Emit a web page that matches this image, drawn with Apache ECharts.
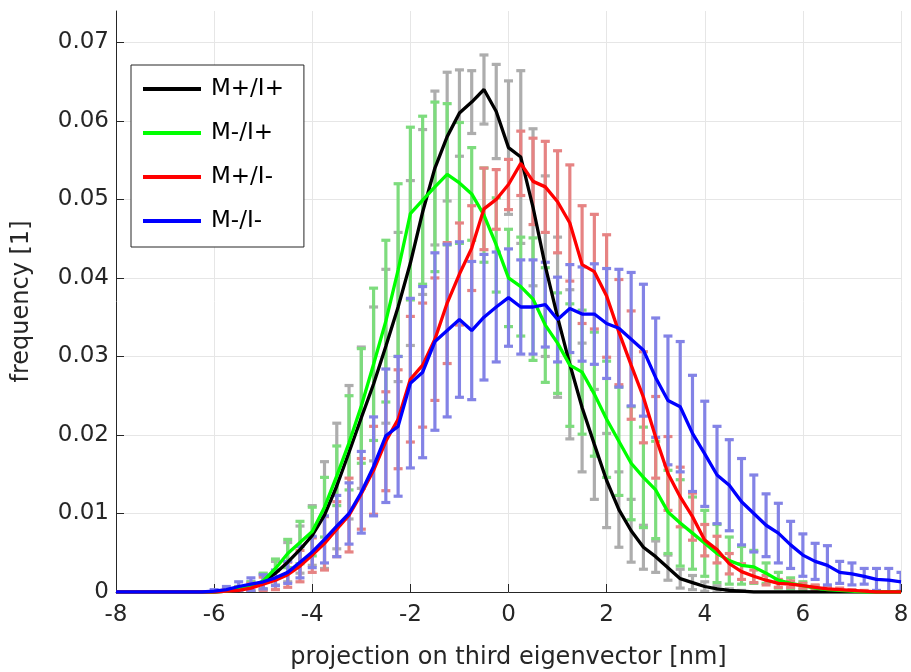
<!DOCTYPE html>
<html><head><meta charset="utf-8">
<script src="https://cdn.jsdelivr.net/npm/echarts@6/dist/echarts.min.js"></script>
<style>html,body{margin:0;padding:0;background:#fff}#c{width:911px;height:672px}</style>
</head><body><div id="c"></div>
<script>
const xValues = [-8,-7.75,-7.5,-7.25,-7,-6.75,-6.5,-6.25,-6,-5.75,-5.5,-5.25,-5,-4.75,-4.5,-4.25,-4,-3.75,-3.5,-3.25,-3,-2.75,-2.5,-2.25,-2,-1.75,-1.5,-1.25,-1,-0.75,-0.5,-0.25,0,0.25,0.5,0.75,1,1.25,1.5,1.75,2,2.25,2.5,2.75,3,3.25,3.5,3.75,4,4.25,4.5,4.75,5,5.25,5.5,5.75,6,6.25,6.5,6.75,7,7.25,7.5,7.75,8];

const seriesNames = ['M+/I+', 'M-/I+', 'M+/I-', 'M-/I-'];

const meanMpIp = [0,0,0,0,0,0,0,0,0,0.0001,0.0003,0.0007,0.0013,0.0024,0.0038,0.0054,0.0072,0.0098,0.0135,0.0178,0.0222,0.0265,0.0313,0.0363,0.0419,0.0484,0.054,0.058,0.061,0.0624,0.064,0.0612,0.0566,0.0554,0.049,0.0415,0.035,0.029,0.0235,0.0188,0.0142,0.0105,0.0078,0.0057,0.0045,0.0031,0.0017,0.0012,0.0007,0.0004,0.0002,0.0001,0,0,0,0,0,0,0,0,0,0,0,0,0];
const errMpIp  = [0,0,0,0,0,0,0,0,0,0.0002,0.0004,0.0006,0.001,0.0015,0.0025,0.003,0.0038,0.0068,0.008,0.0085,0.009,0.0098,0.0098,0.0095,0.0105,0.0105,0.0098,0.0082,0.0055,0.004,0.0044,0.006,0.0085,0.011,0.01,0.0115,0.0102,0.0095,0.0082,0.007,0.006,0.0048,0.004,0.0028,0.002,0.0016,0.0012,0.0009,0.0006,0.0004,0.0002,0.0001,0,0,0,0,0,0,0,0,0,0,0,0,0];

const meanMmIp = [0,0,0,0,0,0,0,0,0,0.0001,0.0003,0.0007,0.0014,0.003,0.0049,0.0063,0.0077,0.0108,0.0148,0.019,0.0237,0.029,0.0345,0.041,0.0482,0.0499,0.0516,0.0532,0.0521,0.0507,0.048,0.0442,0.04,0.0389,0.0373,0.034,0.0317,0.0289,0.028,0.0252,0.022,0.0192,0.0164,0.0146,0.013,0.0102,0.0088,0.0075,0.0062,0.0049,0.004,0.0034,0.0032,0.0024,0.0015,0.0011,0.0008,0.0005,0.0003,0.0002,0.0001,0,0,0,0];
const errMmIp  = [0,0,0,0,0,0,0,0,0,0.0002,0.0004,0.0006,0.001,0.0012,0.0018,0.0027,0.0031,0.0038,0.0038,0.006,0.0073,0.0097,0.0103,0.011,0.011,0.0107,0.0108,0.009,0.0077,0.0059,0.006,0.006,0.0062,0.0063,0.0078,0.0073,0.0064,0.0078,0.0079,0.0079,0.0074,0.0069,0.0072,0.0064,0.0062,0.0053,0.0055,0.0046,0.0042,0.0037,0.003,0.0024,0.0021,0.0013,0.001,0.0007,0.0005,0.0003,0.0002,0.0001,0,0,0,0,0];

const meanMpIm = [0,0,0,0,0,0,0,0,0,0.0001,0.0002,0.0005,0.001,0.0015,0.0022,0.0033,0.0047,0.0062,0.008,0.0098,0.0125,0.0155,0.0192,0.022,0.0271,0.0289,0.0322,0.0368,0.0405,0.0438,0.0488,0.05,0.0519,0.0546,0.0523,0.0516,0.0497,0.047,0.0417,0.0408,0.0377,0.0331,0.0289,0.0248,0.0197,0.0151,0.0121,0.0096,0.0066,0.0054,0.0036,0.0026,0.002,0.0015,0.0011,0.001,0.0008,0.0006,0.0004,0.0003,0.0002,0.0001,0,0,0];
const errMpIm  = [0,0,0,0,0,0,0,0,0,0.0002,0.0004,0.0006,0.0009,0.0012,0.0016,0.002,0.0022,0.0034,0.0035,0.0047,0.0045,0.0056,0.0063,0.0063,0.008,0.0079,0.0078,0.0077,0.0065,0.0054,0.0052,0.0038,0.0032,0.0041,0.0055,0.0058,0.0065,0.0074,0.0075,0.0073,0.0078,0.0067,0.0069,0.0058,0.0052,0.0047,0.0038,0.003,0.002,0.0017,0.0013,0.001,0.0008,0.0006,0.0005,0.0004,0.0003,0.0003,0.0002,0.0002,0.0001,0.0001,0,0,0];

const meanMmIm = [0,0,0,0,0,0,0,0,0.0001,0.0003,0.0007,0.001,0.0013,0.0018,0.0025,0.0038,0.0051,0.0067,0.0084,0.01,0.0127,0.016,0.0199,0.0211,0.0266,0.028,0.0319,0.0333,0.0347,0.0333,0.035,0.0363,0.0375,0.0363,0.0363,0.0366,0.0347,0.0361,0.0354,0.0354,0.0342,0.0336,0.0322,0.0308,0.0273,0.0244,0.0236,0.0202,0.0176,0.0149,0.0136,0.0115,0.01,0.0085,0.0075,0.006,0.0047,0.0039,0.0034,0.0025,0.0023,0.002,0.0016,0.0015,0.0013];
const errMmIm  = [0,0,0,0,0,0,0,0,0.0002,0.0004,0.0006,0.0008,0.0009,0.001,0.0014,0.002,0.002,0.003,0.0039,0.0039,0.0052,0.0063,0.0085,0.0089,0.0108,0.0109,0.0113,0.011,0.0099,0.0088,0.008,0.007,0.0062,0.006,0.006,0.0054,0.0054,0.0056,0.006,0.0064,0.007,0.0075,0.0085,0.0084,0.0076,0.0082,0.0083,0.0074,0.0067,0.0062,0.0058,0.0055,0.0049,0.004,0.0038,0.003,0.0027,0.0023,0.0025,0.0014,0.0014,0.001,0.0014,0.0015,0.0012];

const yTickValues = [0, 0.01, 0.02, 0.03, 0.04, 0.05, 0.06, 0.07];

const means = [meanMpIp, meanMmIp, meanMpIm, meanMmIm];
const errs = [errMpIp, errMmIp, errMpIm, errMmIm];
const lineColors = ['#000000', '#00ff00', '#ff0000', '#0000ff'];
const barColors = ['#adadad', '#7ddc7d', '#e68383', '#8383e6'];
const FONT = 'DejaVu Sans';

function errSeries(idx) {
  const mean = means[idx], err = errs[idx], color = barColors[idx];
  const data = [];
  xValues.forEach((x, i) => { if (err[i] > 0) data.push([x, mean[i] - err[i], mean[i] + err[i]]); });
  return {
    type: 'custom', name: seriesNames[idx] + ' err', data: data, silent: true, clip: true, z: 1 + idx * 0.01,
    encode: { x: 0, y: [1, 2] },
    renderItem: function (params, api) {
      const x = api.value(0);
      const lo = Math.max(0, api.value(1));
      const hi = api.value(2);
      const pLo = api.coord([x, lo]);
      const pHi = api.coord([x, hi]);
      const hw = 4.5;
      const style = { stroke: color, lineWidth: 3.2, fill: null };
      return {
        type: 'group', children: [
          { type: 'line', shape: { x1: pLo[0], y1: pLo[1], x2: pHi[0], y2: pHi[1] }, style: style },
          { type: 'line', shape: { x1: pLo[0] - hw, y1: pLo[1], x2: pLo[0] + hw, y2: pLo[1] }, style: style },
          { type: 'line', shape: { x1: pHi[0] - hw, y1: pHi[1], x2: pHi[0] + hw, y2: pHi[1] }, style: style }
        ]
      };
    }
  };
}

function lineSeries(idx) {
  return {
    type: 'line', name: seriesNames[idx], color: lineColors[idx],
    data: xValues.map((x, i) => [x, means[idx][i]]),
    symbol: 'none', showSymbol: false, silent: true, z: 5 + idx,
    lineStyle: { width: 3.3, color: lineColors[idx] },
    itemStyle: { color: lineColors[idx] }
  };
}

const chart = echarts.init(document.getElementById('c'), null, { renderer: 'canvas' });
const series = [];
for (let i = 0; i < 4; i++) series.push(errSeries(i));
for (let i = 0; i < 4; i++) series.push(lineSeries(i));

chart.setOption({
  animation: false,
  backgroundColor: '#ffffff',
  grid: { left: 116, right: 10, top: 11, bottom: 80, containLabel: false, outerBoundsMode: 'none' },
  legend: {
    data: seriesNames, orient: 'vertical', left: 131, top: 65,
    icon: 'rect', itemWidth: 58, itemHeight: 4, itemGap: 18,
    padding: [11, 20, 13, 12],
    borderColor: '#262626', borderWidth: 1, backgroundColor: '#ffffff',
    selectedMode: false, z: 20,
    textStyle: { fontFamily: FONT, fontSize: 23, color: '#000', lineHeight: 26, padding: [0, 0, 0, 5] }
  },
  xAxis: {
    type: 'value', min: -8, max: 8, interval: 2,
    name: 'projection on third eigenvector [nm]', nameLocation: 'middle', nameGap: 54,
    nameTextStyle: { fontFamily: FONT, fontSize: 24, color: '#262626' },
    axisLine: { show: true, onZero: false, lineStyle: { color: '#262626', width: 1 } },
    axisTick: { show: true, inside: true, length: 8, lineStyle: { color: '#262626' } },
    axisLabel: { fontFamily: FONT, fontSize: 23, color: '#262626', margin: 12 },
    splitLine: { show: true, lineStyle: { color: '#e6e6e6', width: 1 } }
  },
  yAxis: {
    type: 'value', min: 0, max: 0.074, interval: 0.01,
    name: 'frequency [1]', nameLocation: 'middle', nameGap: 82,
    nameTextStyle: { fontFamily: FONT, fontSize: 24, color: '#262626' },
    axisLine: { show: true, onZero: false, lineStyle: { color: '#262626', width: 1 } },
    axisTick: { show: true, inside: true, length: 8, lineStyle: { color: '#262626' }, customValues: yTickValues },
    axisLabel: { fontFamily: FONT, fontSize: 23, color: '#262626', margin: 7,
      customValues: yTickValues,
      formatter: function (v) { return v === 0 ? '0' : v.toFixed(2); } },
    splitLine: { show: true, lineStyle: { color: '#e6e6e6', width: 1 } }
  },
  series: series
});
</script>
</body></html>
